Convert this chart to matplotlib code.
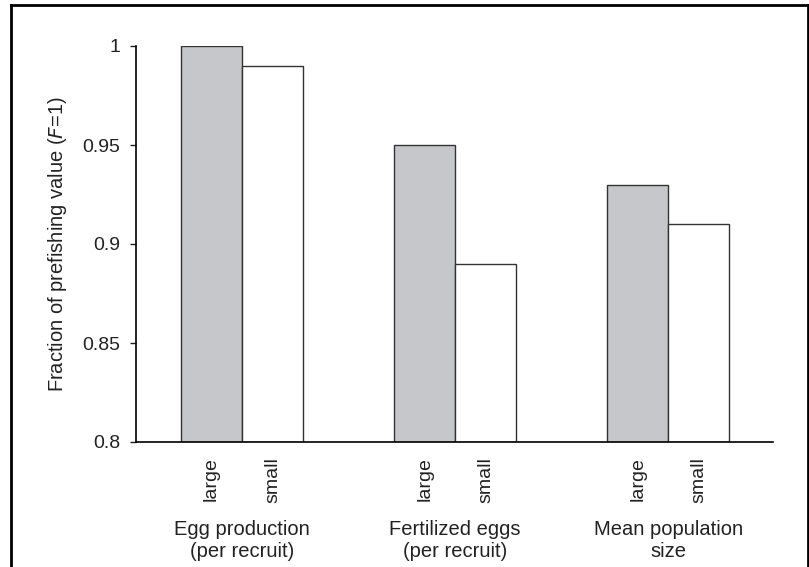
import numpy as np
import matplotlib.pyplot as plt
from matplotlib.lines import Line2D

plt.rcParams['font.family'] = ['Liberation Sans', 'DejaVu Sans']

# Values relative to the unfished state
groups = ['Egg production\n(per recruit)', 'Fertilized eggs\n(per recruit)', 'Mean population\nsize']
sizes = ['large', 'small']
large_vals = [1.0, 0.95, 0.93]
small_vals = [0.99, 0.89, 0.91]
yticks = [0.8, 0.85, 0.9, 0.95, 1.0]
ytick_labels = ['0.8', '0.85', '0.9', '0.95', '1']

fs = 14
fs_big = 14.5

fig = plt.figure(figsize=(8.09, 5.67), dpi=100)
ax = fig.add_axes([136 / 809, 1 - 442 / 567, (773 - 136) / 809, (442 - 46) / 567])

group_pos = np.arange(len(groups)) * 3.5
x_large = group_pos
x_small = group_pos + 1

ax.bar(x_large, np.array(large_vals) - 0.8, bottom=0.8, width=1.0,
       color='#c6c7ca', edgecolor='#333333', linewidth=1.0, zorder=2)
ax.bar(x_small, np.array(small_vals) - 0.8, bottom=0.8, width=1.0,
       color='white', edgecolor='#333333', linewidth=1.0, zorder=2)

ax.set_ylim(0.8, 1.0)
ax.set_xlim(-1.24, 9.22)
ax.set_yticks(yticks)
ax.set_yticklabels(ytick_labels, fontsize=fs)
ax.tick_params(axis='y', length=4.5, width=1, pad=7, colors='#222222')

xt = np.sort(np.concatenate([x_large, x_small]))
ax.set_xticks(xt)
ax.set_xticklabels(sizes * len(groups), rotation=90, fontsize=fs, color='#222222')
ax.tick_params(axis='x', length=0, pad=11)

for spine in ['top', 'right']:
    ax.spines[spine].set_visible(False)
ax.spines['left'].set_linewidth(1.2)
ax.spines['bottom'].set_linewidth(1.2)

# group names under each pair of bars
for gx, name in zip(group_pos + 0.5, groups):
    ax.text(gx, -0.197, name, transform=ax.get_xaxis_transform(),
            ha='center', va='top', fontsize=fs_big, linespacing=1.2, color='#222222')

ax.set_ylabel('Fraction of prefishing value ($\\it{F}$=1)', fontsize=fs_big, color='#222222')
ax.yaxis.set_label_coords(-0.105, 0.5)

# outer frame
x0, x1 = 11 / 809, 807.5 / 809
y1 = 1 - 5 / 567
for xs, ys in [([x0, x0], [0, y1]), ([x0, x1], [y1, y1]), ([x1, x1], [y1, 0])]:
    fig.add_artist(Line2D(xs, ys, transform=fig.transFigure, color='black', linewidth=2))

fig.savefig('out.png', dpi=100)
